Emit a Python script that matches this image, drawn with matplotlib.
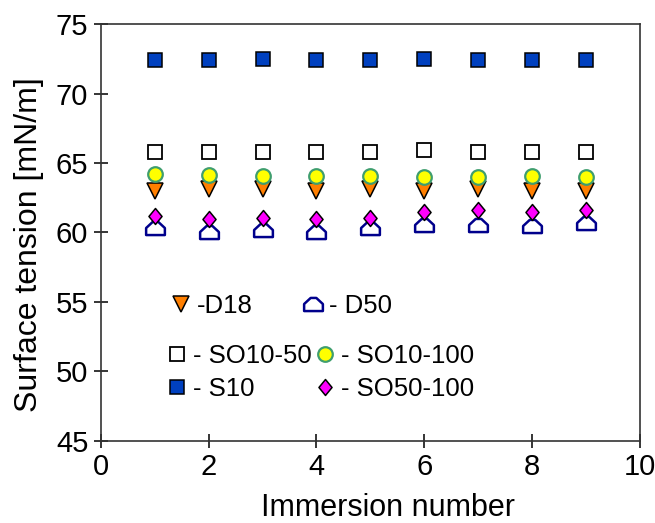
import matplotlib
matplotlib.use('Agg')
import matplotlib.pyplot as plt
from matplotlib.path import Path

plt.rcParams['font.family'] = ['Liberation Sans', 'DejaVu Sans']

# surface tension after each immersion
immersion = [1, 2, 3, 4, 5, 6, 7, 8, 9]
s10 = [72.4, 72.4, 72.5, 72.4, 72.4, 72.45, 72.4, 72.4, 72.4]
so10_50 = [65.8, 65.8, 65.8, 65.8, 65.8, 65.95, 65.8, 65.8, 65.8]
so10_100 = [64.2, 64.15, 64.1, 64.05, 64.05, 64.0, 64.0, 64.05, 64.0]
d18 = [63.0, 63.1, 63.1, 63.0, 63.1, 63.0, 63.1, 63.0, 63.0]
so50_100 = [61.15, 61.0, 61.05, 61.0, 61.05, 61.45, 61.6, 61.5, 61.65]
d50 = [60.3, 60.05, 60.2, 60.05, 60.3, 60.55, 60.55, 60.5, 60.7]

xticks = [0, 2, 4, 6, 8, 10]
yticks = [45, 50, 55, 60, 65, 70, 75]

# house-shaped marker and a slim diamond
house = Path([(-1, -0.7), (1, -0.7), (1, 0.05), (0.3, 0.7), (-0.3, 0.7), (-1, 0.05), (-1, -0.7)],
             [Path.MOVETO] + [Path.LINETO] * 5 + [Path.CLOSEPOLY])
diamond = Path([(0, 1), (0.82, 0), (0, -1), (-0.82, 0), (0, 1)],
               [Path.MOVETO] + [Path.LINETO] * 3 + [Path.CLOSEPOLY])

fig = plt.figure(figsize=(6.55, 5.23), dpi=100)
ax = fig.add_axes([0.154, 0.157, 0.823, 0.797])

h_d18, = ax.plot(immersion, d18, 'v', ms=11, mfc='#ff7f00', mec='black', mew=1.1, label='-D18')
h_d50, = ax.plot(immersion, d50, marker=house, ls='none', ms=13.5, mfc='white', mec='#00008c',
                 mew=1.8, label='- D50')
h_so1050, = ax.plot(immersion, so10_50, 's', ms=9.5, mfc='white', mec='black', mew=1.3,
                    label='- SO10-50')
h_s10, = ax.plot(immersion, s10, 's', ms=9.5, mfc='#0040bf', mec='black', mew=1.1, label='- S10')
h_so10100, = ax.plot(immersion, so10_100, 'o', ms=10.5, mfc='#ffff00', mec='#3f9e6e', mew=1.6,
                     label='- SO10-100')
h_so50100, = ax.plot(immersion, so50_100, marker=diamond, ls='none', ms=11.5, mfc='#ff00ff',
                     mec='black', mew=1.1, label='- SO50-100')

ax.set_xlim(0, 10)
ax.set_ylim(45, 75)
ax.set_xticks(xticks)
ax.set_yticks(yticks)
ax.tick_params(direction='inout', length=10, width=1.1, labelsize=21, pad=4)
for sp in ax.spines.values():
    sp.set_linewidth(1.2)
    sp.set_color('#333333')

ax.set_xlabel('Immersion number', fontsize=22)
ax.xaxis.set_label_coords(0.532, -0.125)
ax.set_ylabel('Surface tension [mN/m]', fontsize=23)
ax.yaxis.set_label_coords(-0.105, 0.472)

leg1 = ax.legend(handles=[h_d18, h_d50], ncol=2, loc='upper left', bbox_to_anchor=(0.128, 0.353),
                 frameon=False, fontsize=18.5, borderpad=0, handlelength=0.9, handletextpad=0.15,
                 columnspacing=1.9, borderaxespad=0)
ax.add_artist(leg1)
ax.legend(handles=[h_so1050, h_s10, h_so10100, h_so50100], ncol=2, loc='upper left',
          bbox_to_anchor=(0.12, 0.233), frameon=False, fontsize=18.5, borderpad=0,
          handlelength=0.9, handletextpad=0.15, columnspacing=0.1, labelspacing=0.35,
          borderaxespad=0)

fig.savefig('out.png', dpi=100)
